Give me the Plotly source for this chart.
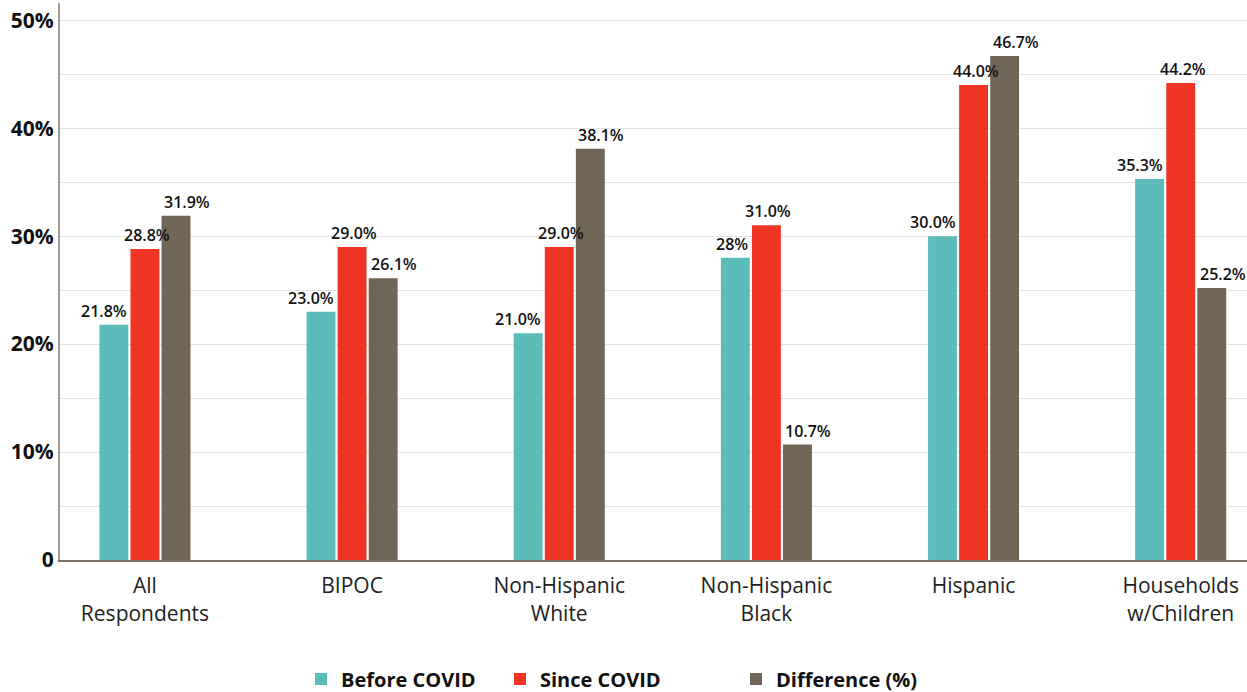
import plotly.graph_objects as go

categories = ["All<br>Respondents", "BIPOC", "Non-Hispanic<br>White", "Non-Hispanic<br>Black", "Hispanic", "Households<br>w/Children"]
before_covid = [21.8, 23.0, 21.0, 28.0, 30.0, 35.3]
since_covid = [28.8, 29.0, 29.0, 31.0, 44.0, 44.2]
difference = [31.9, 26.1, 38.1, 10.7, 46.7, 25.2]
before_labels = ["21.8%", "23.0%", "21.0%", "28%", "30.0%", "35.3%"]
since_labels = ["28.8%", "29.0%", "29.0%", "31.0%", "44.0%", "44.2%"]
diff_labels = ["31.9%", "26.1%", "38.1%", "10.7%", "46.7%", "25.2%"]
y_tickvals = [0, 5, 10, 15, 20, 25, 30, 35, 40, 45, 50]
y_ticktext = ["0", "", "10%", "", "20%", "", "30%", "", "40%", "", "50%"]

FONT = "Open Sans"
W, H = 1247, 692
# name, values, labels, colour, legend id, legend x (px), label anchor, label x shift (px)
series = [
    ("Before COVID", before_covid, before_labels, "#5bbcb9", "legend", 301, "right", -16),
    ("Since COVID", since_covid, since_labels, "#ee3425", "legend2", 500, "center", 2),
    ("Difference (%)", difference, diff_labels, "#716556", "legend3", 736, "left", 17),
]

fig = go.Figure()
legend_layouts = {}
annotations = []
for name, vals, labels, color, leg, lx, anchor, shift in series:
    fig.add_trace(go.Bar(
        x=categories, y=vals, name=name, marker=dict(color=color, line=dict(width=0)),
        legend=leg, hoverinfo="x+y",
    ))
    legend_layouts[leg] = dict(
        orientation="h", xref="container", yref="container",
        x=lx / W, xanchor="left", y=1 - 679 / H, yanchor="middle",
        font=dict(family=FONT, size=20, color="#111111", weight="bold"),
        itemwidth=30, bgcolor="rgba(0,0,0,0)",
    )
    for cat, v, lab in zip(categories, vals, labels):
        annotations.append(dict(
            x=cat, y=v, xref="x", yref="y", text=lab, showarrow=False,
            xanchor=anchor, yanchor="bottom", xshift=shift, yshift=1,
            font=dict(family=FONT, size=16, color="#111111", weight=600),
        ))

fig.update_layout(
    width=W, height=H,
    margin=dict(l=60, r=0, t=3, b=132),
    paper_bgcolor="white", plot_bgcolor="white",
    barmode="group", bargap=0.55, bargroupgap=0.07,
    font=dict(family=FONT, color="#111111"),
    showlegend=True,
    annotations=annotations,
    xaxis=dict(
        type="category", range=[-0.41, 5.32],
        showline=True, linecolor="#7d7367", linewidth=2,
        ticks="", showgrid=False, ticklabelstandoff=6,
        tickfont=dict(family=FONT, size=21, color="#222222"),
    ),
    yaxis=dict(
        range=[0, 51.6], tickvals=y_tickvals, ticktext=y_ticktext,
        showline=True, linecolor="#a39c94", linewidth=2,
        showgrid=True, gridcolor="#e3e3e3", gridwidth=1,
        zeroline=False, ticks="", ticklen=0,
        tickfont=dict(family=FONT, size=21, color="#111111", weight="bold"),
    ),
    **legend_layouts,
)

fig.write_html(
    "out.html",
    config={"displayModeBar": False},
    post_script="document.body.style.margin='0';document.body.style.overflow='hidden';",
)
